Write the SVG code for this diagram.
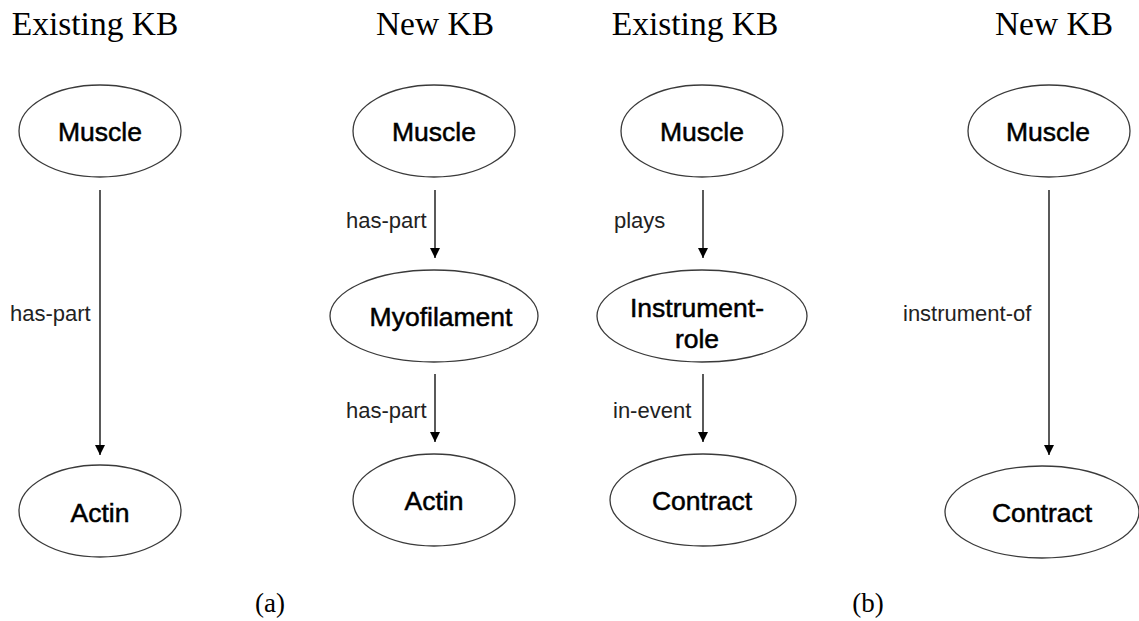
<svg xmlns="http://www.w3.org/2000/svg" width="1139" height="621" viewBox="0 0 1139 621">
  <style>
    .title { font-family: "Liberation Serif", "Times New Roman", serif; font-size: 33.5px; fill: #000; text-anchor: middle; }
    .caption { font-family: "Liberation Serif", "Times New Roman", serif; font-size: 27px; fill: #000; text-anchor: middle; }
    .node ellipse { fill: #fff; stroke: #3a3a3a; stroke-width: 1.3; }
    .node text { font-family: "Liberation Sans", Arial, sans-serif; font-size: 26.5px; fill: #000; stroke: #000; stroke-width: 0.5; text-anchor: middle; }
    .edge line { stroke: #000; stroke-width: 1.3; }
    .edge text { font-family: "Liberation Sans", Arial, sans-serif; font-size: 22px; fill: #222; }
  </style>
  <defs>
    <marker id="arrow" viewBox="0 0 10 12" refX="10" refY="6" markerWidth="10" markerHeight="12" markerUnits="userSpaceOnUse" orient="auto">
      <path d="M0,1 L10,6 L0,11 Z" fill="#000"/>
    </marker>
  </defs>

  <rect width="1139" height="621" fill="#fff"/>

  <!-- panel titles -->
  <text class="title" x="95" y="35">Existing KB</text>
  <text class="title" x="435" y="35">New KB</text>
  <text class="title" x="695" y="35">Existing KB</text>
  <text class="title" x="1054" y="35">New KB</text>

  <!-- sub-figure captions -->
  <text class="caption" x="270" y="612">(a)</text>
  <text class="caption" x="868" y="612">(b)</text>

  <!-- connectors -->
  <g id="connectors">
    <g class="edge">
      <line x1="100" y1="190" x2="100" y2="455" marker-end="url(#arrow)"/>
      <text x="10" y="321">has-part</text>
    </g>
    <g class="edge">
      <line x1="435" y1="190" x2="435" y2="258" marker-end="url(#arrow)"/>
      <text x="346" y="228">has-part</text>
    </g>
    <g class="edge">
      <line x1="435" y1="374" x2="435" y2="442" marker-end="url(#arrow)"/>
      <text x="346" y="418">has-part</text>
    </g>
    <g class="edge">
      <line x1="703" y1="190" x2="703" y2="258" marker-end="url(#arrow)"/>
      <text x="614" y="228">plays</text>
    </g>
    <g class="edge">
      <line x1="703" y1="374" x2="703" y2="442" marker-end="url(#arrow)"/>
      <text x="613" y="418">in-event</text>
    </g>
    <g class="edge">
      <line x1="1049" y1="190" x2="1049" y2="455" marker-end="url(#arrow)"/>
      <text x="903" y="321">instrument-of</text>
    </g>
  </g>

  <!-- (a) existing KB -->
  <g id="a-existing-muscle" class="node">
    <ellipse cx="100" cy="131" rx="81" ry="46"/>
    <text x="100" y="141">Muscle</text>
  </g>
  <g id="a-existing-actin" class="node">
    <ellipse cx="100" cy="511" rx="81" ry="46"/>
    <text x="100" y="522">Actin</text>
  </g>

  <!-- (a) new KB -->
  <g id="a-new-muscle" class="node">
    <ellipse cx="434" cy="131" rx="81" ry="46"/>
    <text x="434" y="141">Muscle</text>
  </g>
  <g id="a-new-myofilament" class="node">
    <ellipse cx="434" cy="316" rx="104" ry="46"/>
    <text x="441" y="326">Myofilament</text>
  </g>
  <g id="a-new-actin" class="node">
    <ellipse cx="434" cy="500" rx="81" ry="46"/>
    <text x="434" y="510">Actin</text>
  </g>

  <!-- (b) existing KB -->
  <g id="b-existing-muscle" class="node">
    <ellipse cx="702" cy="131" rx="81" ry="46"/>
    <text x="702" y="141">Muscle</text>
  </g>
  <g id="b-existing-instrument-role" class="node">
    <ellipse cx="702" cy="316" rx="105" ry="46"/>
    <text x="697" y="317">Instrument-</text>
    <text x="697" y="348">role</text>
  </g>
  <g id="b-existing-contract" class="node">
    <ellipse cx="703" cy="500" rx="93" ry="46"/>
    <text x="702" y="510">Contract</text>
  </g>

  <!-- (b) new KB -->
  <g id="b-new-muscle" class="node">
    <ellipse cx="1049" cy="131" rx="81" ry="46"/>
    <text x="1048" y="141">Muscle</text>
  </g>
  <g id="b-new-contract" class="node">
    <ellipse cx="1042" cy="512" rx="97" ry="46"/>
    <text x="1042" y="522">Contract</text>
  </g>
</svg>
